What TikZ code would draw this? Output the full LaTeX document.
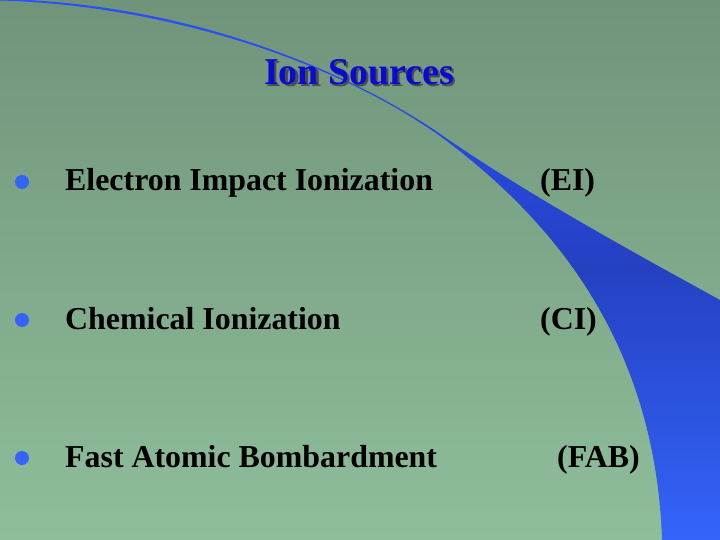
\documentclass[tikz,border=0pt]{standalone}
\usepackage{fontspec}
\setmainfont{Liberation Serif}
\definecolor{bgtop}{RGB}{112,148,122}
\definecolor{bgbot}{RGB}{143,190,155}
\definecolor{swoosh}{RGB}{52,100,250}
\definecolor{swdark}{RGB}{30,50,170}
\definecolor{titleblue}{RGB}{10,10,210}
\tikzset{item/.style={anchor=base west,font=\bfseries\fontsize{32}{36}\selectfont,inner sep=0pt},
 bul/.style={circle,fill=swoosh,minimum size=14bp,inner sep=0pt},
 ttl/.style={font=\bfseries\fontsize{38}{42}\selectfont}}
\begin{document}
\begin{tikzpicture}[x=1bp,y=-1bp]
\useasboundingbox (0,0) rectangle (720,540);
\shade[top color=bgtop,bottom color=bgbot] (0,0) rectangle (720,540);
% swoosh
\shade[top color=swoosh!80!blue,bottom color=swoosh,middle color=swdark!70!swoosh]
 (0,0.5) .. controls (160,5) and (330,58) .. (440,136)
 .. controls (540,210) and (655,330) .. (662,540)
 -- (720,540) -- (720,300)
 .. controls (620,245) and (520,190) .. (436,131)
 .. controls (320,54) and (160,2) .. (0,-1) -- cycle;
\node[ttl,text=gray!60!black] at (361.5,74.5) {Ion Sources};
\node[ttl,text=titleblue] (title) at (359,72) {Ion Sources};
\node[bul] (b1) at (22,182) {};
\node[bul] (b2) at (22,320) {};
\node[bul] (b3) at (22,458) {};
\node[item] (t1) at (65,191) {Electron Impact Ionization};
\node[item] (t2) at (65,329) {Chemical Ionization};
\node[item] (t3) at (65,467) {Fast Atomic Bombardment};
\node[item] (a1) at (540,191) {(EI)};
\node[item] (a2) at (540,329) {(CI)};
\node[item] (a3) at (557,467) {(FAB)};
\end{tikzpicture}
\end{document}
